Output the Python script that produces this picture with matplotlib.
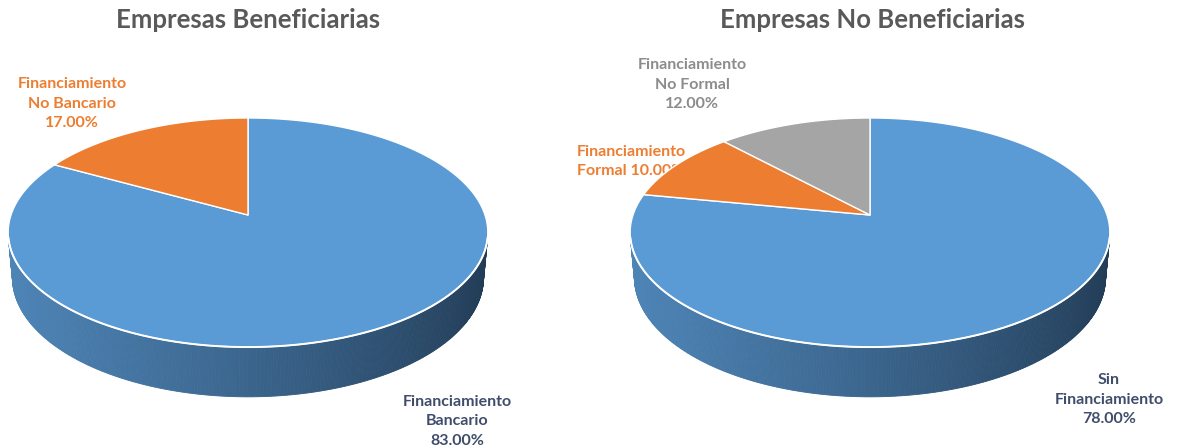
import numpy as np
import matplotlib.pyplot as plt
from matplotlib.patches import Polygon
from matplotlib.colors import to_rgb

plt.rcParams['font.family'] = ['Lato', 'DejaVu Sans']

# datos
titulos = ['Empresas Beneficiarias', 'Empresas No Beneficiarias']

categorias_benef = ['Financiamiento\nBancario', 'Financiamiento\nNo Bancario']
valores_benef = [83.0, 17.0]
colores_benef = ['#5B9BD5', '#ED7D31']

categorias_no_benef = ['Sin\nFinanciamiento', 'Financiamiento\nFormal', 'Financiamiento\nNo Formal']
valores_no_benef = [78.0, 10.0, 12.0]
colores_no_benef = ['#5B9BD5', '#ED7D31', '#A5A5A5']

# parámetros de la cámara del pastel 3D (radio = 1)
SEN_F, COS_F = 0.472, 0.882
DIST = 5.76
GROSOR = 0.217
ESCALA = 237  # px por unidad de radio
ANCHO, ALTO = 1178, 448


def proyectar(x, y, z):
    prof = 1 + (y * COS_F - z * SEN_F) / DIST
    return x / prof, (y * SEN_F + z * COS_F) / prof


def tono(color, f):
    rgb = np.array(to_rgb(color))
    # al oscurecer se tira un poco hacia el azul marino
    marino = np.array([0.10, 0.20, 0.33])
    if f < 1:
        mezcla = rgb * f + marino * (1 - f) * 0.35
    else:
        mezcla = rgb * f
    return tuple(np.clip(mezcla, 0, 1))


def pastel_3d(ax, valores, colores, paso=0.5):
    frac = np.array(valores) / np.sum(valores)
    bordes = 90 - 360 * np.concatenate([[0], np.cumsum(frac)])
    umbral = -1 / (DIST * COS_F)

    # pared lateral: solo los tramos que miran a la cámara
    for i, col in enumerate(colores):
        a0, a1 = bordes[i], bordes[i + 1]
        n = max(2, int(abs(a0 - a1) / paso) + 1)
        ang = np.deg2rad(np.linspace(a0, a1, n))
        for t0, t1 in zip(ang[:-1], ang[1:]):
            tm = (t0 + t1) / 2
            if np.sin(tm) >= umbral:
                continue
            pts = [proyectar(np.cos(t0), np.sin(t0), 0),
                   proyectar(np.cos(t1), np.sin(t1), 0),
                   proyectar(np.cos(t1), np.sin(t1), -GROSOR),
                   proyectar(np.cos(t0), np.sin(t0), -GROSOR)]
            k = ((np.cos(tm) + 1) / 2) ** 1.2
            c = tono(col, 0.84 - 0.54 * k)
            ax.add_patch(Polygon(pts, closed=True, facecolor=c, edgecolor=c,
                                 linewidth=0.6, zorder=2))

    # cara superior
    for i, col in enumerate(colores):
        a0, a1 = bordes[i], bordes[i + 1]
        n = max(2, int(abs(a0 - a1) / paso) + 1)
        ang = np.deg2rad(np.linspace(a0, a1, n))
        pts = [proyectar(0, 0, 0)] + [proyectar(np.cos(t), np.sin(t), 0) for t in ang]
        ax.add_patch(Polygon(pts, closed=True, facecolor=col, edgecolor='white',
                             linewidth=1.0, joinstyle='round', zorder=3))

    # filo blanco del borde frontal
    lim = np.degrees(np.arcsin(-umbral))
    ang = np.deg2rad(np.linspace(180 + lim, 360 - lim, 200))
    xs, ys = zip(*[proyectar(np.cos(t), np.sin(t), 0) for t in ang])
    ax.plot(xs, ys, color='white', linewidth=1.4, zorder=4, solid_capstyle='round')


def nuevo_eje(fig, x0, x1, cx, cy):
    ax = fig.add_axes([x0 / ANCHO, 0, (x1 - x0) / ANCHO, 1])
    ax.set_xlim((x0 - cx) / ESCALA, (x1 - cx) / ESCALA)
    ax.set_ylim((cy - ALTO) / ESCALA, cy / ESCALA)
    ax.axis('off')
    return ax


fig = plt.figure(figsize=(ANCHO / 100, ALTO / 100), dpi=100)
fig.patch.set_facecolor('white')

estilo_titulo = dict(fontsize=18.5, fontweight='bold', color='#595959',
                     ha='center', va='baseline')
estilo_etiqueta = dict(fontsize=11.5, fontweight='bold', linespacing=1.5, zorder=1)

# Empresas Beneficiarias
ax1 = nuevo_eje(fig, 0, 589, 248, 215)
pastel_3d(ax1, valores_benef, colores_benef)
ax1.text(0, 0.79, titulos[0], **estilo_titulo)
pos1 = [(0.882, -0.87), (-0.743, 0.47)]
col_txt1 = ['#3F4D6B', '#ED7D31']
for cat, val, (x, y), c in zip(categorias_benef, valores_benef, pos1, col_txt1):
    ax1.text(x, y, f'{cat}\n{val:.2f}%', color=c, ha='center', va='center',
             **estilo_etiqueta)

# Empresas No Beneficiarias
ax2 = nuevo_eje(fig, 560, 1178, 870, 215)
pastel_3d(ax2, valores_no_benef, colores_no_benef)
ax2.text(0.01, 0.79, titulos[1], **estilo_titulo)
pos2 = [(1.008, -0.78), (-1.236, 0.225), (-0.751, 0.55)]
col_txt2 = ['#3F4D6B', '#ED7D31', '#8C8C8C']
alin2 = ['center', 'left', 'center']
for cat, val, (x, y), c, ha in zip(categorias_no_benef, valores_no_benef, pos2, col_txt2, alin2):
    # la etiqueta de "Formal" lleva el porcentaje en la misma línea
    sep = ' ' if ha == 'left' else '\n'
    ax2.text(x, y, f'{cat}{sep}{val:.2f}%', color=c, ha=ha, va='center',
             multialignment=ha, **estilo_etiqueta)

fig.savefig('out.png', dpi=100, facecolor='white')
